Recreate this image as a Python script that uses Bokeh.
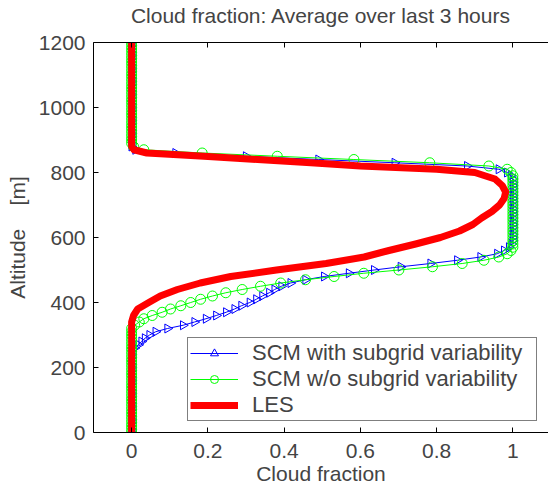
import numpy as np
from bokeh.plotting import figure
from bokeh.models import (Range1d, FixedTicker, NumeralTickFormatter, LinearAxis,
                          Legend, LegendItem, ColumnDataSource, CustomLabelingPolicy)
from bokeh.embed import file_html
from bokeh.resources import INLINE

# ---------------- data ----------------
altitude = [0, 10, 20, 30, 40, 50, 60, 70, 80, 90,
            100, 110, 120, 130, 140, 150, 160, 170, 180, 190,
            200, 210, 220, 230, 240, 250, 260, 270, 280, 290,
            300, 310, 320, 330, 340, 350, 360, 370, 380, 390,
            400, 410, 420, 430, 440, 450, 460, 470, 480, 490,
            500, 510, 520, 530, 540, 550, 560, 570, 580, 590,
            600, 610, 620, 630, 640, 650, 660, 670, 680, 690,
            700, 710, 720, 730, 740, 750, 760, 770, 780, 790,
            800, 810, 820, 830, 840, 850, 860, 870, 880, 890,
            900, 910, 920, 930, 940, 950, 960, 970, 980, 990,
            1000, 1010, 1020, 1030, 1040, 1050, 1060, 1070, 1080, 1090,
            1100, 1110, 1120, 1130, 1140, 1150, 1160, 1170, 1180, 1190,
            1200]

# SCM with subgrid variability (blue triangles)
scm_subgrid = [0, 0, 0, 0, 0, 0, 0, 0, 0, 0,
               0, 0, 0, 0, 0, 0, 0, 0, 0, 0,
               0, 0, 0, 0, 0, 0, 0.008, 0.018, 0.026, 0.035,
               0.047, 0.063, 0.094, 0.135, 0.165, 0.195, 0.222, 0.248, 0.27, 0.288,
               0.31, 0.327, 0.343, 0.361, 0.375, 0.393, 0.417, 0.456, 0.505, 0.57,
               0.636, 0.706, 0.784, 0.854, 0.915, 0.959, 0.977, 0.99, 0.997, 1.0,
               1.0, 1.0, 1.0, 1.0, 1.0, 1.0, 1.0, 1.0, 1.0, 1.0,
               1.0, 1.0, 1.0, 1.0, 1.0, 1.0, 1.0, 1.0, 1.0, 0.995,
               0.985, 0.963, 0.88, 0.69, 0.49, 0.30, 0.115, 0.01, 0, 0,
               0, 0, 0, 0, 0, 0, 0, 0, 0, 0,
               0, 0, 0, 0, 0, 0, 0, 0, 0, 0,
               0, 0, 0, 0, 0, 0, 0, 0, 0, 0,
               0]

# SCM without subgrid variability (green circles)
scm_nosubgrid = [0, 0, 0, 0, 0, 0, 0, 0, 0, 0,
                 0, 0, 0, 0, 0, 0, 0, 0, 0, 0,
                 0, 0, 0, 0, 0, 0, 0, 0, 0, 0,
                 0, 0, 0, 0.008, 0.02, 0.032, 0.054, 0.08, 0.102, 0.129,
                 0.155, 0.181, 0.212, 0.247, 0.29, 0.338, 0.391, 0.456, 0.531, 0.609,
                 0.701, 0.789, 0.867, 0.924, 0.963, 0.985, 0.995, 1.0, 1.0, 1.0,
                 1.0, 1.0, 1.0, 1.0, 1.0, 1.0, 1.0, 1.0, 1.0, 1.0,
                 1.0, 1.0, 1.0, 1.0, 1.0, 1.0, 1.0, 1.0, 1.0, 1.0,
                 0.995, 0.985, 0.937, 0.782, 0.583, 0.382, 0.185, 0.032, 0.005, 0,
                 0, 0, 0, 0, 0, 0, 0, 0, 0, 0,
                 0, 0, 0, 0, 0, 0, 0, 0, 0, 0,
                 0, 0, 0, 0, 0, 0, 0, 0, 0, 0,
                 0]

# LES (thick red line)
les_altitude = [0, 340, 360, 380, 400, 420, 440, 460, 480, 500,
                520, 540, 560, 580, 600, 620, 640, 660, 680, 700,
                720, 740, 760, 780, 800, 810, 820, 830, 840, 850,
                860, 870, 880, 1200]
les_fraction = [0, 0, 0.005, 0.016, 0.045, 0.075, 0.12, 0.18, 0.26, 0.38,
                0.51, 0.61, 0.675, 0.745, 0.81, 0.86, 0.895, 0.918, 0.945, 0.965,
                0.977, 0.981, 0.972, 0.953, 0.90, 0.80, 0.60, 0.47, 0.33, 0.19,
                0.04, 0.006, 0, 0]

x_ticks = [0, 0.2, 0.4, 0.6, 0.8, 1]
y_ticks = [0, 200, 400, 600, 800, 1000, 1200]

title_text = "Cloud fraction: Average over last 3 hours"
x_label = "Cloud fraction"
y_label = "Altitude\u00a0\u00a0\u00a0\u00a0[m]"
labels = ["SCM with subgrid variability", "SCM w/o subgrid variability", "LES"]

# ---------------- figure ----------------
FONT = "Liberation Sans"

p = figure(width=548, height=488, output_backend="svg", toolbar_location=None,
           x_range=Range1d(-0.1, 1.0934), y_range=Range1d(0, 1200),
           min_border_left=93, min_border_right=0, min_border_top=40,
           min_border_bottom=56)
p.background_fill_color = "white"
p.border_fill_color = "white"
p.outline_line_color = None
p.xgrid.visible = False
p.ygrid.visible = False

for ax in (p.xaxis[0], p.yaxis[0]):
    ax.major_label_text_font = FONT
    ax.major_label_text_font_size = "21px"
    ax.axis_label_text_font = FONT
    ax.axis_label_text_font_size = "21px"
    ax.axis_label_text_font_style = "normal"
    ax.major_tick_in = 5
    ax.major_tick_out = 0
    ax.minor_tick_in = 0
    ax.minor_tick_out = 0
    ax.axis_line_color = "black"
    ax.major_tick_line_color = "black"
    ax.major_label_standoff = 8

p.xaxis[0].ticker = FixedTicker(ticks=x_ticks)
p.xaxis[0].formatter = NumeralTickFormatter(format="0.[0]")
p.xaxis[0].axis_label = x_label
p.xaxis[0].major_label_standoff = 11
p.xaxis[0].axis_label_standoff = 1
p.yaxis[0].ticker = FixedTicker(ticks=y_ticks)
p.yaxis[0].axis_label = y_label
p.yaxis[0].axis_label_standoff = 7

# top border with inward ticks; its label carries the chart title
top_axis = LinearAxis(ticker=FixedTicker(ticks=x_ticks),
                      major_label_policy=CustomLabelingPolicy(code="return []"),
                      major_label_text_font_size="1px",
                      major_label_standoff=0, major_tick_in=5, major_tick_out=0,
                      minor_tick_in=0, minor_tick_out=0, axis_line_color="black",
                      axis_label=title_text, axis_label_standoff=12,
                      axis_label_text_font=FONT, axis_label_text_font_size="21px",
                      axis_label_text_font_style="normal")
p.add_layout(top_axis, "above")

src = ColumnDataSource(dict(alt=altitude, sub=scm_subgrid, nosub=scm_nosubgrid))
les = ColumnDataSource(dict(alt=les_altitude, cf=les_fraction))

bl = p.line("sub", "alt", source=src, line_color="#0000ff", line_width=1)
bs = p.scatter("sub", "alt", source=src, marker="triangle", angle=-np.pi / 2, size=9,
               line_color="#0000ff", fill_color=None, line_width=1)
gl = p.line("nosub", "alt", source=src, line_color="#00ff00", line_width=1)
gs = p.scatter("nosub", "alt", source=src, marker="circle", size=10,
               line_color="#00ff00", fill_color=None, line_width=1)
rl = p.line("cf", "alt", source=les, line_color="#ff0000", line_width=7,
            line_join="round")

legend = Legend(items=[LegendItem(label=labels[0], renderers=[bl, bs]),
                       LegendItem(label=labels[1], renderers=[gl, gs]),
                       LegendItem(label=labels[2], renderers=[rl])],
                location=(94, 11), padding=2, spacing=0, margin=0,
                glyph_width=48, glyph_height=20, label_height=20, label_standoff=14,
                label_width=282,
                label_text_font=FONT, label_text_font_size="22px",
                border_line_color="black", border_line_width=1,
                background_fill_color="white", background_fill_alpha=1)
p.add_layout(legend)

open("out.html", "w").write(file_html(p, INLINE))
